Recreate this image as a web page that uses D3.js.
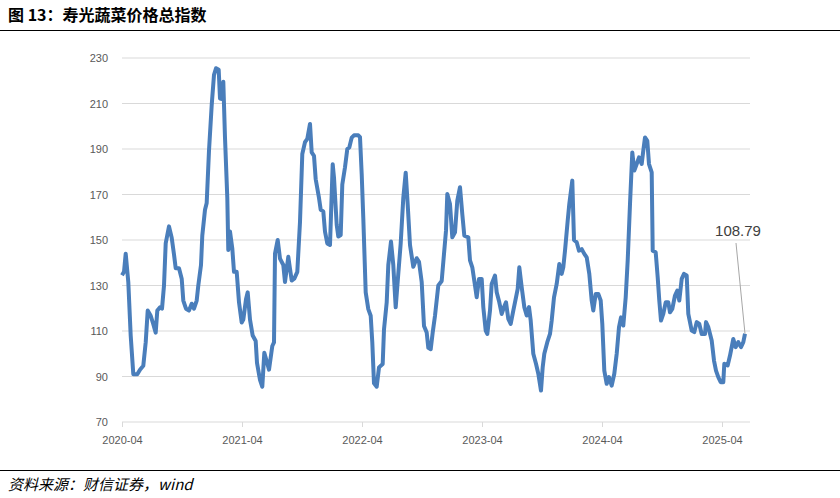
<!DOCTYPE html>
<html><head><meta charset="utf-8">
<script src="https://cdn.jsdelivr.net/npm/d3@7"></script>
<style>body{margin:0;background:#fff}</style>
</head><body><svg id="c" width="840" height="498"></svg>
<script>
// months since 2020-04
const months = [0,0.2,0.37,0.63,0.87,1.13,1.53,1.8,2.13,2.37,2.57,2.87,3.13,3.37,3.53,3.8,4,4.2,4.37,4.7,4.97,5.2,5.37,5.7,5.97,6.13,6.4,6.7,6.97,7.2,7.47,7.63,7.9,8.03,8.3,8.47,8.7,8.97,9.2,9.4,9.67,9.8,10,10.13,10.3,10.53,10.63,10.8,11.03,11.2,11.47,11.7,11.97,12.13,12.4,12.57,12.8,13.07,13.37,13.5,13.8,14.03,14.23,14.47,14.7,15.03,15.2,15.3,15.57,15.8,16.13,16.3,16.63,16.8,16.97,17.23,17.53,17.8,18.03,18.3,18.53,18.8,18.97,19.2,19.37,19.7,19.87,20.13,20.3,20.53,20.8,21.07,21.2,21.47,21.63,21.87,22.03,22.3,22.53,22.73,22.97,23.2,23.63,23.8,23.97,24.13,24.37,24.63,24.87,25.03,25.2,25.47,25.7,26.07,26.2,26.47,26.63,26.9,27.13,27.37,27.63,27.87,28.13,28.37,28.57,28.8,29.13,29.47,29.7,29.97,30.2,30.47,30.63,30.87,31.07,31.3,31.63,31.97,32.2,32.4,32.53,32.8,33.03,33.3,33.53,33.8,34.03,34.23,34.63,34.8,35.03,35.3,35.47,35.7,35.97,36.13,36.37,36.53,36.8,36.97,37.3,37.47,37.73,37.97,38.2,38.4,38.63,38.87,39.13,39.4,39.57,39.73,39.97,40.23,40.47,40.7,40.87,41.13,41.4,41.63,41.9,42.07,42.23,42.53,42.8,42.97,43.2,43.47,43.73,43.97,44.13,44.3,44.57,44.73,45.03,45.2,45.47,45.7,45.97,46.23,46.47,46.73,46.97,47.13,47.37,47.63,47.87,48.03,48.23,48.47,48.7,48.97,49.23,49.47,49.7,49.9,50.13,50.37,50.57,50.8,51.03,51.23,51.47,51.7,51.97,52.13,52.3,52.53,52.7,52.97,53.07,53.37,53.57,53.73,53.9,54.13,54.37,54.63,54.8,55.03,55.3,55.53,55.73,55.97,56.2,56.47,56.63,56.97,57.23,57.47,57.73,57.97,58.3,58.4,58.63,58.97,59.2,59.4,59.63,59.87,60.13,60.23,60.57,60.8,61.13,61.37,61.63,61.9,62.13,62.3];
const values = [134.5,136,144,131.5,108,91,91,93,94.7,105,119,116.7,113,109.3,119,120.4,119.8,130,148.5,156,151,143.6,137.6,137.6,133,123.4,119.8,119,122,119.8,123.4,130,139,152,163.3,166.3,189.3,209.3,222.6,225.5,224.8,212.2,212,219.6,195,168.5,145.6,153.7,146.3,136,136,122.6,113.7,115,124,127,115,108,105.6,96,88.5,85.5,100.4,96.7,93,103.4,105,144,150,141.8,139,131.5,142.6,137.4,132.2,133,136,158,187.8,193,194.5,201,188.5,187,176.7,168.5,163.3,162.6,153.7,148.5,147.8,183.3,177.4,156.7,151.5,152.2,174.4,182,190,190.7,195,196,196,195.2,179,159.6,127,119.6,116.7,105,87,85.5,94,95.5,110.7,122.6,139,149.3,139,120.4,135.2,148.5,168.5,179.6,165.6,147.8,138.2,142,140.4,131.5,112.2,109.3,102.6,102,109.3,116.7,130,132,143.9,154.1,170.2,165.8,151.2,153.4,167.3,173.2,161.4,151.9,151.2,141,138,130,124.8,132.9,132.9,120.5,110.2,108.7,119,130.7,134.4,127,122.6,117.5,120.5,122.6,115.3,113.1,119,124.8,128.5,138,129.2,120.5,116.8,120.5,114.6,100,95.6,91.2,83.8,94.1,100,105.1,108.7,114.6,124.8,130.7,139.5,135.1,138,145.3,158.5,165.8,176.1,150,149,145.3,146,143.9,142.4,135.1,123.4,119,126.3,126.3,123.4,113.1,92.6,86.8,89.7,86,91.2,100,111.7,116,112.4,124.8,141,165.8,188.5,180.5,183.4,186.3,183.4,189.3,195.1,193.6,183.4,179.7,145.3,144.6,133.6,123.4,114.6,117.5,122.6,122.6,118.2,119.7,125.6,127.8,123.4,132.9,135.1,134.4,117.5,110.2,109.5,113.9,113.1,108.7,108.7,113.9,111.7,105.8,97,92.6,89.7,87.5,87.5,95.6,94.9,99.2,106.5,102.9,105.1,102.9,105.1,108.79];
const xTickMonths = [0,12,24,36,48,60];
const xTickLabels = ["2020-04","2021-04","2022-04","2023-04","2024-04","2025-04"];
const yTicks = [70,90,110,130,150,170,190,210,230];
const lastLabel = "108.79";

const svg = d3.select("#c");
const x = d3.scaleLinear().domain([0,60]).range([122,722]);
const y = d3.scaleLinear().domain([70,230]).range([422,58]);
const font = "'Liberation Sans', Arial, sans-serif";

svg.append("text").attr("x",8).attr("y",21).attr("font-family","'Noto Sans CJK SC'").attr("font-weight","bold").attr("font-size",16).text("图 13：寿光蔬菜价格总指数");
svg.append("line").attr("x1",0).attr("x2",840).attr("y1",30.5).attr("y2",30.5).attr("stroke","#000").attr("stroke-width",1);
svg.append("line").attr("x1",0).attr("x2",840).attr("y1",470.5).attr("y2",470.5).attr("stroke","#000").attr("stroke-width",1);
svg.append("text").attr("x",8).attr("y",490).attr("font-family","'Noto Sans CJK SC'").attr("font-style","italic").attr("font-size",15).text("资料来源：财信证券，wind");

const g = svg.append("g");
yTicks.forEach(t=>{
  if(t>70) g.append("line").attr("x1",122).attr("x2",750).attr("y1",y(t)).attr("y2",y(t)).attr("stroke","#d9d9d9").attr("stroke-width",1);
});
const ya = d3.axisLeft(y).tickValues(yTicks).tickSize(0).tickPadding(14);
const yg = svg.append("g").attr("transform","translate(122,0)").call(ya);
yg.select(".domain").remove();
yg.selectAll("text").attr("font-family",font).attr("font-size",11).attr("fill","#595959");

const xa = d3.axisBottom(x).tickValues(xTickMonths).tickFormat((d,i)=>xTickLabels[i]).tickSize(5).tickSizeOuter(0);
const xg = svg.append("g").attr("transform","translate(0,422)").call(xa);
xg.select(".domain").attr("stroke","#d9d9d9").attr("d","M122,0H750");
xg.selectAll("line").attr("stroke","#d9d9d9");
xg.selectAll("text").attr("font-family",font).attr("font-size",11).attr("fill","#595959").attr("dy","1.3em");

const data = months.map((m,i)=>({m,v:values[i]}));
svg.append("path").datum(data).attr("fill","none").attr("stroke","#4a7ebb").attr("stroke-width",4).attr("stroke-linejoin","round")
  .attr("d",d3.line().x(d=>x(d.m)).y(d=>y(d.v)));

const last = data[data.length-1];
svg.append("line").attr("x1",736).attr("y1",243).attr("x2",x(last.m)).attr("y2",y(last.v)).attr("stroke","#a6a6a6").attr("stroke-width",1);
svg.append("text").attr("x",738).attr("y",236).attr("text-anchor","middle").attr("font-family",font).attr("font-size",15).attr("fill","#404040").text(lastLabel);
</script></body></html>
